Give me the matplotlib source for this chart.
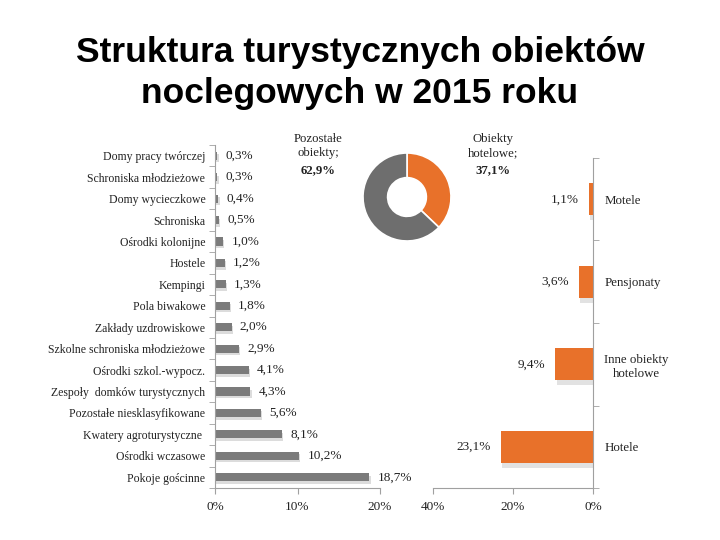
import matplotlib.pyplot as plt
import numpy as np

# dane
kategorie_inne = ['Domy pracy twórczej', 'Schroniska młodzieżowe', 'Domy wycieczkowe',
                  'Schroniska', 'Ośrodki kolonijne', 'Hostele', 'Kempingi', 'Pola biwakowe',
                  'Zakłady uzdrowiskowe', 'Szkolne schroniska młodzieżowe',
                  'Ośrodki szkol.-wypocz.', 'Zespoły  domków turystycznych',
                  'Pozostałe niesklasyfikowane', 'Kwatery agroturystyczne ',
                  'Ośrodki wczasowe', 'Pokoje gościnne']
wartosci_inne = [0.3, 0.3, 0.4, 0.5, 1.0, 1.2, 1.3, 1.8, 2.0, 2.9, 4.1, 4.3, 5.6, 8.1, 10.2, 18.7]

kategorie_hotel = ['Motele', 'Pensjonaty', 'Inne obiekty\nhotelowe', 'Hotele']
wartosci_hotel = [1.1, 3.6, 9.4, 23.1]

donut_etykiety = ['Obiekty\nhotelowe;', 'Pozostałe\nobiekty;']
donut_wartosci = [37.1, 62.9]

szary = '#7b7b7b'
szary_d = '#6e6e6e'
pomarancz = '#e8712a'
os_kolor = '#a0a0a0'
tekst = '#222222'
serif = ['Liberation Serif', 'DejaVu Serif']

W, H = 720, 540
fig = plt.figure(figsize=(7.2, 5.4), dpi=100)


def px_axes(x0, y0, x1, y1):
    # pozycja osi w pikselach (od góry)
    return fig.add_axes([x0 / W, 1 - y1 / H, (x1 - x0) / W, (y1 - y0) / H])


def fmt(v):
    return f'{v:.1f}'.replace('.', ',') + '%'


# tytuł
fig.text(0.5, 1 - 73 / H, 'Struktura turystycznych obiektów\nnoclegowych w 2015 roku',
         ha='center', va='center', fontsize=25.5, fontweight='bold',
         family=['Liberation Sans', 'DejaVu Sans'], linespacing=1.27, color='black')

# lewy wykres
ax1 = px_axes(215, 145, 380, 488)
n = len(kategorie_inne)
y = np.arange(n)
ax1.barh(y + 0.12, wartosci_inne, height=0.38, color='#dcdcdc', left=0.15, zorder=1)
ax1.barh(y, wartosci_inne, height=0.38, color=szary, zorder=2)
for yi, v in zip(y, wartosci_inne):
    ax1.annotate(fmt(v), (v, yi), xytext=(6, 0), textcoords='offset points',
                 va='center', ha='left', fontsize=9.5, family=serif, color=tekst,
                 annotation_clip=False)
ax1.set_ylim(n - 0.5, -0.5)
ax1.set_xlim(0, 20)
ax1.set_yticks(y)
ax1.set_yticklabels(kategorie_inne, fontsize=8.5, family=serif, color=tekst)
ax1.set_yticks(np.arange(n + 1) - 0.5, minor=True)
ax1.tick_params(axis='y', which='major', length=0, pad=7)
ax1.tick_params(axis='y', which='minor', length=4, color=os_kolor, direction='out')
ax1.set_xticks([0, 10, 20])
ax1.set_xticklabels(['0%', '10%', '20%'], fontsize=9.5, family=serif, color=tekst)
ax1.tick_params(axis='x', length=4, color=os_kolor, pad=5)
for s in ['top', 'right']:
    ax1.spines[s].set_visible(False)
for s in ['left', 'bottom']:
    ax1.spines[s].set_color(os_kolor)

# prawy wykres
ax2 = px_axes(433, 158, 593, 488)
m = len(kategorie_hotel)
y2 = np.arange(m)
ax2.barh(y2 + 0.06, wartosci_hotel, height=0.39, color='#e2e2e2', left=-0.4, zorder=1)
ax2.barh(y2, wartosci_hotel, height=0.39, color=pomarancz, zorder=2)
for yi, v in zip(y2, wartosci_hotel):
    ax2.annotate(fmt(v), (v, yi), xytext=(-7, 0), textcoords='offset points',
                 va='center', ha='right', fontsize=9.5, family=serif, color=tekst)
ax2.set_xlim(40, 0)
ax2.set_ylim(m - 0.5, -0.5)
ax2.yaxis.tick_right()
ax2.set_yticks(y2)
ax2.set_yticklabels(kategorie_hotel, fontsize=9.3, family=serif, color=tekst)
for t in ax2.get_yticklabels():
    t.set_multialignment('center')
ax2.set_yticks(np.arange(m + 1) - 0.5, minor=True)
ax2.tick_params(axis='y', which='major', length=0, pad=8)
ax2.tick_params(axis='y', which='minor', length=4, color=os_kolor, direction='out')
ax2.set_xticks([40, 20, 0])
ax2.set_xticklabels(['40%', '20%', '0%'], fontsize=9.5, family=serif, color=tekst)
ax2.tick_params(axis='x', length=4, color=os_kolor, pad=5)
for s in ['top', 'left']:
    ax2.spines[s].set_visible(False)
for s in ['right', 'bottom']:
    ax2.spines[s].set_color(os_kolor)

# wykres pierścieniowy
ax3 = px_axes(352, 142, 462, 252)
ax3.pie(donut_wartosci, colors=[pomarancz, szary_d], startangle=90, counterclock=False,
        wedgeprops=dict(width=0.56, edgecolor='white', linewidth=1.2))
ax3.set_aspect('equal')
for x_px, etk, v in [(493, donut_etykiety[0], donut_wartosci[0]),
                     (318, donut_etykiety[1], donut_wartosci[1])]:
    fig.text(x_px / W, 1 - 133 / H, etk, ha='center', va='top', fontsize=9.2,
             family=serif, color=tekst, linespacing=1.25)
    fig.text(x_px / W, 1 - 170 / H, fmt(v), ha='center', va='center', fontsize=9.2,
             family=serif, color=tekst, fontweight='bold')

fig.savefig('out.png', dpi=100)
